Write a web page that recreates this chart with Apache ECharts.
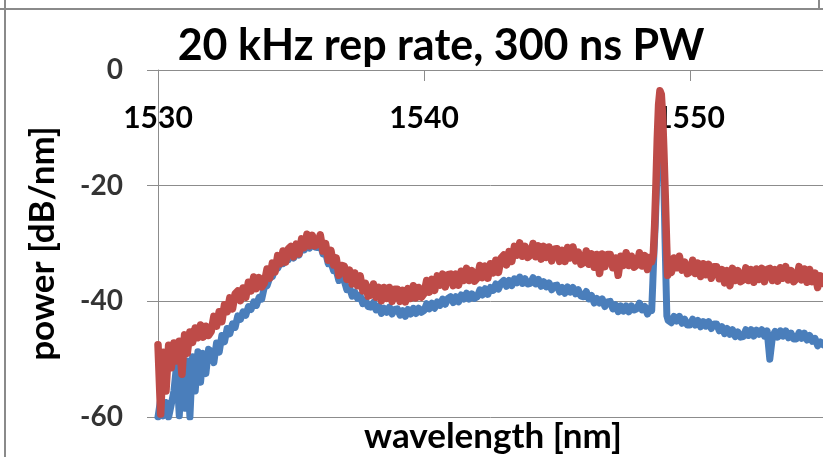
<!DOCTYPE html>
<html><head><meta charset="utf-8">
<script src="https://cdn.jsdelivr.net/npm/echarts@6/dist/echarts.min.js"></script>
<style>html,body{margin:0;padding:0;background:#fff;overflow:hidden}#c{width:823px;height:457px}</style>
</head><body><div id="c"></div>
<script>
// ---- data ----
const titleText = '20 kHz rep rate, 300 ns PW';
const xName = 'wavelength [nm]';
const yName = 'power [dB/nm]';
const xTicks = [1530, 1540, 1550];
const yTicks = [-60, -40, -20, 0];
const X_MAX = 1555;
// spectra sampled every 0.1 nm from 1530.0 nm (null = inside the laser line, given separately below)
const WL_START = 1530, WL_STEP = 0.1;
const redGrid = [
 -47.5,-59.5,-48.8,-55.5,-47.6,-51.5,-47.2,-50.3,-46.9,-52.6,
 -45.8,-49.0,-45.3,-47.1,-44.6,-46.3,-44.1,-46.2,-44.3,-45.9,
 -45.2,-42.6,-44.3,-41.8,-43.5,-40.6,-41.8,-39.4,-41.3,-38.7,
 -38.2,-39.9,-37.7,-39.3,-36.7,-38.2,-35.8,-37.8,-35.9,-37.5,
 -36.8,-34.4,-36.0,-33.4,-34.9,-32.1,-33.5,-31.3,-33.2,-30.9,
 -30.5,-32.3,-30.1,-31.8,-29.2,-30.7,-28.4,-30.4,-28.6,-30.4,
 -30.1,-28.5,-31.3,-30.0,-32.9,-31.2,-33.7,-32.5,-35.5,-33.8,
 -33.9,-36.2,-34.6,-37.0,-35.1,-37.3,-35.6,-38.2,-36.9,-39.1,
 -38.9,-37.0,-39.3,-37.6,-39.9,-37.6,-39.5,-37.6,-40.0,-37.9,
 -37.9,-40.0,-38.1,-40.1,-37.8,-39.5,-37.3,-39.4,-37.6,-39.3,
 -38.7,-36.4,-38.4,-36.2,-38.1,-35.6,-37.2,-35.3,-37.5,-35.4,
 -35.3,-37.3,-35.3,-37.2,-34.8,-36.4,-34.3,-36.4,-34.7,-36.5,
 -36.0,-33.8,-35.9,-33.9,-36.0,-33.5,-35.1,-32.9,-35.0,-32.5,
 -32.0,-33.7,-31.4,-33.1,-30.5,-32.0,-29.9,-32.2,-30.5,-32.4,
 -32.0,-30.0,-32.3,-30.4,-32.7,-30.5,-32.4,-30.6,-33.0,-31.0,
 -30.9,-33.1,-31.2,-33.1,-30.7,-32.5,-30.6,-33.0,-31.5,-33.6,
 -33.3,-31.3,-33.6,-31.8,-34.1,-31.9,-35.2,-31.8,-34.0,-31.9,
 -31.9,-34.2,-32.5,-35.5,-32.2,-33.8,-31.6,-33.8,-32.2,-34.1,
 -33.7,-31.6,-33.9,-32.1,-34.5,-32.4,null,null,null,null,
 null,null,null,-35.0,-32.5,-34.2,-32.2,-34.6,-33.2,-35.2,
 -34.9,-32.9,-35.2,-33.4,-35.7,-33.5,-35.4,-33.6,-36.0,-34.0,
 -34.0,-36.1,-34.5,-36.8,-34.7,-37.3,-34.3,-36.4,-34.7,-36.6,
 -36.3,-34.2,-36.4,-34.5,-36.7,-34.4,-36.2,-34.3,-36.6,-34.5,
 -34.3,-36.4,-34.5,-36.5,-34.2,-36.0,-34.0,-36.3,-34.7,-36.6,
 -36.1,-34.0,-36.3,-34.4,-36.7,-34.5,-36.6,-35.1,-37.6,-35.6,
 -36.9
];
const blueGrid = [
 -60.0,-57.0,-59.8,-57.5,-60.0,-57.8,-55.5,-51.0,-59.8,-51.2,
 -58.5,-50.3,-60.0,-49.6,-55.5,-48.7,-54.0,-49.0,-52.5,-48.3,
 -48.6,-50.6,-47.2,-48.8,-45.9,-47.0,-44.7,-45.6,-43.9,-44.5,
 -42.5,-43.1,-41.8,-42.4,-40.9,-41.4,-40.1,-40.7,-39.3,-39.6,
 -37.5,-37.3,-35.9,-35.7,-34.4,-34.3,-33.3,-33.5,-32.6,-32.8,
 -31.7,-32.5,-31.3,-32.0,-30.6,-31.1,-29.9,-30.8,-29.8,-30.6,
 -30.7,-30.1,-31.8,-31.6,-33.5,-33.2,-34.7,-34.6,-36.4,-36.1,
 -36.4,-38.0,-37.6,-39.1,-38.4,-39.5,-39.0,-40.4,-39.8,-40.9,
 -41.0,-40.2,-41.5,-40.8,-42.1,-41.2,-41.9,-41.0,-42.2,-41.4,
 -41.3,-42.4,-41.6,-42.6,-41.4,-42.2,-41.2,-42.1,-41.2,-41.9,
 -41.6,-40.4,-41.3,-40.3,-41.2,-40.1,-40.7,-39.6,-40.5,-39.5,
 -39.2,-40.2,-39.2,-40.1,-38.9,-39.6,-38.6,-39.6,-38.7,-39.5,
 -39.2,-38.0,-38.9,-37.8,-38.8,-37.6,-38.1,-37.0,-37.9,-36.8,
 -36.4,-37.4,-36.4,-37.3,-36.1,-36.8,-35.8,-36.9,-36.1,-37.0,
 -36.9,-35.9,-37.0,-36.2,-37.4,-36.6,-37.5,-36.8,-38.0,-37.3,
 -37.2,-38.4,-37.6,-38.6,-37.5,-38.4,-37.6,-38.7,-38.0,-39.1,
 -39.2,-38.3,-39.6,-39.0,-40.3,-39.5,-40.3,-39.6,-40.9,-40.1,
 -40.0,-41.3,-40.6,-41.8,-40.8,-41.7,-40.8,-41.8,-40.8,-41.5,
 -41.3,-40.3,-41.5,-40.9,-42.2,-41.2,null,null,null,null,
 null,null,null,-43.7,-42.6,-43.4,-42.6,-43.8,-43.1,-44.1,
 -44.1,-43.1,-44.1,-43.3,-44.4,-43.5,-44.3,-43.5,-44.7,-43.9,
 -43.9,-45.1,-44.4,-45.6,-44.7,-45.7,-44.9,-46.1,-45.3,-46.2,
 -46.1,-44.9,-45.9,-44.9,-46.0,-45.0,-45.7,-44.9,-46.0,-45.1,
 -50.0,-46.1,-45.2,-46.2,-45.1,-46.0,-45.1,-46.3,-45.5,-46.5,
 -46.5,-45.4,-46.4,-45.5,-46.7,-45.9,-46.9,-46.4,-47.7,-47.0,
 -47.5
];
// laser line around 1548.9 nm (denser samples)
const redPeakWl = [1548.55,1548.62,1548.67,1548.72,1548.77,1548.82,1548.87,1548.92,1548.97,1549.02,1549.07,1549.12,1549.16,1549.22];
const redPeak   = [-33.2,-32.0,-27.0,-20.0,-12.0,-6.0,-3.6,-4.2,-8.0,-14.5,-22.0,-30.0,-35.5,-34.0];
const bluePeakWl = [1548.56,1548.60,1548.64,1548.70,1548.76,1548.81,1548.86,1548.90,1548.94,1548.98,1549.02,1549.06,1549.10,1549.13,1549.18,1549.24];
const bluePeak   = [-41.6,-37.0,-32.0,-26.0,-18.0,-11.0,-6.5,-5.5,-7.0,-12.0,-20.0,-29.0,-37.0,-42.5,-43.3,-43.0];

function buildSeries(grid, pWl, pV) {
  const pts = [];
  grid.forEach((v, i) => { if (v !== null) pts.push([+(WL_START + i * WL_STEP).toFixed(2), v]); });
  pWl.forEach((w, i) => pts.push([w, pV[i]]));
  pts.sort((a, b) => a[0] - b[0]);
  return pts;
}

const FONT = 'Lato';
const GRID_COLOR = '#8c8c8c';
const gridBox = {left: 158, right: 0, top: 70, bottom: 40, containLabel: false};
const xScale = {type: 'value', min: xTicks[0], max: X_MAX, interval: xTicks[1] - xTicks[0]};
const yScale = {type: 'value', min: yTicks[0], max: yTicks[yTicks.length - 1], interval: yTicks[1] - yTicks[0]};
const chart = echarts.init(document.getElementById('c'), null, {renderer: 'canvas'});
chart.setOption({
  animation: false,
  backgroundColor: '#ffffff',
  grid: [gridBox, Object.assign({}, gridBox)],
  xAxis: [Object.assign({
    // grid 0: axis line and ticks along the top of the plot
    gridIndex: 0, position: 'top',
    axisLine: {show: true, onZero: false, lineStyle: {color: GRID_COLOR, width: 1}},
    axisTick: {show: true, inside: true, length: 11, lineStyle: {color: GRID_COLOR}},
    axisLabel: {show: false},
    splitLine: {show: false}
  }, xScale), Object.assign({
    // grid 1: x tick labels, drawn just below the top axis line
    gridIndex: 1, position: 'top',
    axisLine: {show: false}, axisTick: {show: false}, splitLine: {show: false},
    axisLabel: {inside: true, margin: 33, showMaxLabel: false, formatter: v => String(v),
      fontFamily: FONT, fontWeight: 'bold', fontSize: 30, color: '#000'}
  }, xScale)],
  yAxis: [Object.assign({
    gridIndex: 0,
    name: yName, nameLocation: 'middle', nameGap: 98,
    nameTextStyle: {fontFamily: FONT, fontWeight: 'bold', fontSize: 35, color: '#000'},
    axisLine: {show: true, onZero: false, lineStyle: {color: GRID_COLOR, width: 1}},
    axisTick: {show: true, inside: false, length: 11, lineStyle: {color: GRID_COLOR}},
    axisLabel: {show: false},
    splitLine: {show: true, lineStyle: {color: GRID_COLOR, width: 1}}
  }, yScale), Object.assign({gridIndex: 1, show: false}, yScale)],
  graphic: [
    {type: 'line', shape: {x1: 0, y1: 9, x2: 823, y2: 9}, style: {stroke: '#8a8a8a', lineWidth: 2}},
    {type: 'line', shape: {x1: 5, y1: 0, x2: 5, y2: 457}, style: {stroke: '#8a8a8a', lineWidth: 2}},
    {type: 'line', shape: {x1: 819, y1: 0, x2: 819, y2: 9}, style: {stroke: '#8a8a8a', lineWidth: 2}},
    {type: 'text', x: 441, y: 46, style: {text: titleText, font: 'bold 43px Lato', fill: '#000', textAlign: 'center', textVerticalAlign: 'middle'}},
    {type: 'text', x: 493, y: 437, style: {text: xName, font: 'bold 35px Lato', fill: '#000', textAlign: 'center', textVerticalAlign: 'middle'}}
  ],
  series: [
    {type: 'line', name: 'blue', xAxisIndex: 0, yAxisIndex: 0, data: buildSeries(blueGrid, bluePeakWl, bluePeak), showSymbol: false, symbol: 'none',
     lineStyle: {color: '#4a7ebb', width: 7, join: 'round', cap: 'round'}, z: 2, silent: true},
    {type: 'line', name: 'red', xAxisIndex: 0, yAxisIndex: 0, data: buildSeries(redGrid, redPeakWl, redPeak), showSymbol: false, symbol: 'none',
     lineStyle: {color: '#be4b48', width: 7.5, join: 'round', cap: 'round'}, z: 3, silent: true},
    // y tick labels, placed at each tick value on the y scale
    {type: 'scatter', name: 'yTickLabels', xAxisIndex: 0, yAxisIndex: 0, data: yTicks.map(v => [xTicks[0], v]),
     symbolSize: 0, clip: false, silent: true, z: 10,
     label: {show: true, position: 'left', distance: 35, formatter: p => String(p.value[1]),
       fontFamily: FONT, fontWeight: 'bold', fontSize: 28, color: '#000'}}
  ]
});
</script></body></html>
